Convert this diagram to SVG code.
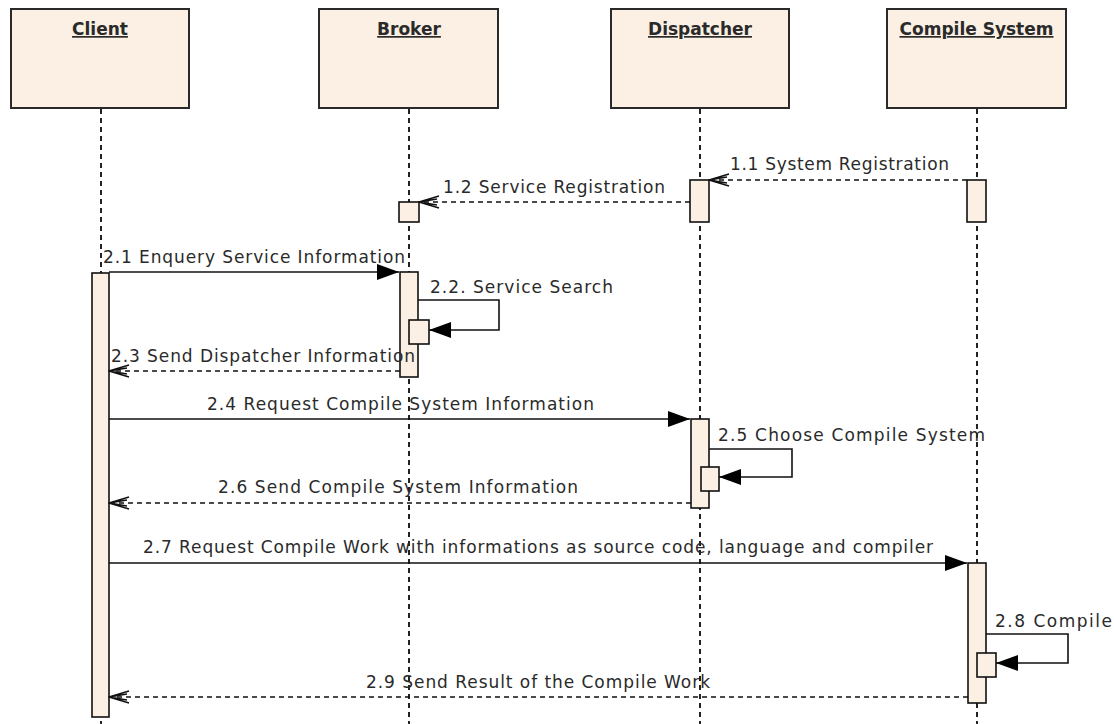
<svg xmlns="http://www.w3.org/2000/svg" width="1114" height="724" viewBox="0 0 1114 724">
<style>
.hdr{fill:#fbf0e3;stroke:#2a2a2a;stroke-width:2}
.life{stroke:#222;stroke-width:2;stroke-dasharray:5 4;fill:none}
.bar{fill:#fbf0e3;stroke:#111;stroke-width:1.6}
.name{font-family:"DejaVu Sans",sans-serif;font-weight:bold;font-size:17px;fill:#2a2a2a;text-anchor:middle;text-decoration:underline}
.lbl{font-family:"DejaVu Sans",sans-serif;font-size:17px;fill:#2a2a2a}
.sync{stroke:#111;stroke-width:1.6;fill:none;marker-end:url(#filled)}
.ret{stroke:#111;stroke-width:1.6;fill:none;stroke-dasharray:5 4;marker-end:url(#open)}
</style>
<defs>
<marker id="filled" markerUnits="userSpaceOnUse" markerWidth="22" markerHeight="16" viewBox="0 0 22 16" refX="22" refY="8" orient="auto">
<path d="M0,0 L22,8 L0,16 Z" fill="#000"/>
</marker>
<marker id="open" markerUnits="userSpaceOnUse" markerWidth="22" markerHeight="14" viewBox="0 0 22 14" refX="21" refY="7" orient="auto">
<path d="M1,1 L21,7 L1,13 M3,4 L21,7 L3,10" fill="none" stroke="#111" stroke-width="1.4"/>
</marker>
</defs>
<rect width="1114" height="724" fill="#fff"/>
<g id="client">
<rect class="hdr" x="11" y="9" width="178" height="99"/>
<text class="name" x="100" y="35">Client</text>
<line class="life" x1="101" y1="109" x2="101" y2="724"/>
<rect class="bar" x="92" y="273" width="17" height="444"/>
</g>
<g id="broker">
<rect class="hdr" x="319" y="9" width="179" height="99"/>
<text class="name" x="409" y="35">Broker</text>
<line class="life" x1="409" y1="109" x2="409" y2="724"/>
<rect class="bar" x="399" y="202" width="20" height="20"/>
<rect class="bar" x="400" y="272" width="18" height="105"/>
<rect class="bar" x="409" y="320" width="20" height="24"/>
</g>
<g id="dispatcher">
<rect class="hdr" x="611" y="9" width="178" height="99"/>
<text class="name" x="700" y="35">Dispatcher</text>
<line class="life" x1="700" y1="109" x2="700" y2="724"/>
<rect class="bar" x="690" y="180" width="19" height="42"/>
<rect class="bar" x="691" y="419" width="18" height="89"/>
<rect class="bar" x="701" y="467" width="18" height="24"/>
</g>
<g id="compile-system">
<rect class="hdr" x="887" y="9" width="179" height="99"/>
<text class="name" x="976.5" y="35">Compile System</text>
<line class="life" x1="977" y1="109" x2="977" y2="724"/>
<rect class="bar" x="967" y="180" width="19" height="42"/>
<rect class="bar" x="968" y="563" width="18" height="140"/>
<rect class="bar" x="977" y="653" width="19" height="24"/>
</g>
<g id="connectors">
<path class="ret" d="M967,180 H709"/>
<path class="ret" d="M690,202 H419"/>
<path class="sync" d="M109,272 H399"/>
<path class="sync" d="M418,300 H499 V330 H429"/>
<path class="ret" d="M400,371 H109"/>
<path class="sync" d="M109,419 H690"/>
<path class="sync" d="M709,449 H792 V477 H719"/>
<path class="ret" d="M691,503 H109"/>
<path class="sync" d="M109,563 H967"/>
<path class="sync" d="M986,634 H1068 V663 H996"/>
<path class="ret" d="M968,697 H109"/>
</g>
<g id="labels">
<text class="lbl" x="730" y="170" textLength="219" lengthAdjust="spacing">1.1 System Registration</text>
<text class="lbl" x="443" y="193" textLength="222" lengthAdjust="spacing">1.2 Service Registration</text>
<text class="lbl" x="103" y="263" textLength="302" lengthAdjust="spacing">2.1 Enquery Service Information</text>
<text class="lbl" x="430" y="293" textLength="183" lengthAdjust="spacing">2.2. Service Search</text>
<text class="lbl" x="111" y="362" textLength="304" lengthAdjust="spacing">2.3 Send Dispatcher Information</text>
<text class="lbl" x="207" y="410" textLength="387" lengthAdjust="spacing">2.4 Request Compile System Information</text>
<text class="lbl" x="718" y="441" textLength="267" lengthAdjust="spacing">2.5 Choose Compile System</text>
<text class="lbl" x="218" y="493" textLength="360" lengthAdjust="spacing">2.6 Send Compile System Information</text>
<text class="lbl" x="143" y="553" textLength="790" lengthAdjust="spacing">2.7 Request Compile Work with informations as source code, language and compiler</text>
<text class="lbl" x="995" y="627" textLength="117" lengthAdjust="spacing">2.8 Compile</text>
<text class="lbl" x="366" y="688" textLength="344" lengthAdjust="spacing">2.9 Send Result of the Compile Work</text>
</g>
</svg>
